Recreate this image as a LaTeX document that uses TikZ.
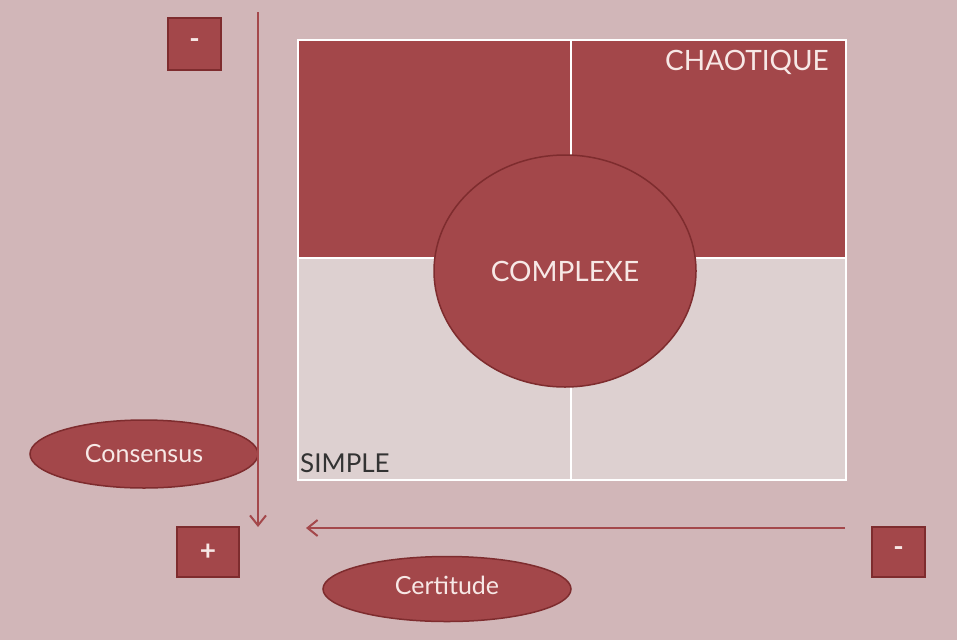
\documentclass[tikz,border=0pt]{standalone}
\usepackage{fontspec}
\setmainfont{Lato}
\usetikzlibrary{arrows.meta,shapes.geometric}
\definecolor{bg}{HTML}{D1B6B8}
\definecolor{dark}{HTML}{A3474A}
\definecolor{light}{HTML}{DDD0D0}
\definecolor{edgec}{HTML}{7E2C2E}
\definecolor{txt}{HTML}{F7E8E6}
\definecolor{arrowc}{HTML}{A4484B}
\tikzset{
  quad/.style={rectangle, anchor=north west, draw=white, line width=2pt, inner sep=0pt},
  pill/.style={ellipse, fill=dark, draw=edgec, line width=1.5pt, inner sep=0pt, text=txt, font=\fontsize{25}{28}\selectfont},
  signbox/.style={rectangle, fill=dark, draw=edgec, line width=1.5pt, inner sep=0pt, text=txt, font=\fontsize{28}{30}\selectfont\bfseries},
  axis/.style={arrowc, line width=2.2pt, -{Straight Barb[length=10pt,width=16pt,line width=2pt]}},
  big/.style={font=\fontsize{28}{32}\selectfont}
}
\begin{document}
\begin{tikzpicture}[x=1pt,y=-1pt]
\fill[bg] (0,0) rectangle (957,640);
\useasboundingbox (0,0) rectangle (957,640);
% quadrants
\node[quad, fill=dark, minimum width=273pt, minimum height=218pt] (q1) at (297,39) {};
\node[quad, fill=dark, minimum width=275pt, minimum height=218pt] (q2) at (570,39) {};
\node[quad, fill=light, minimum width=273pt, minimum height=222pt] (q3) at (297,257) {};
\node[quad, fill=light, minimum width=275pt, minimum height=222pt] (q4) at (570,257) {};
% centre ellipse
\node[ellipse, fill=dark, draw=edgec, line width=1.5pt, minimum width=262pt, minimum height=232pt, text=txt, big] (cx) at (565,271) {COMPLEXE};
% labels
\node[big, text=txt, anchor=base east, inner sep=0pt] (chaos) at (829,70) {CHAOTIQUE};
\node[font=\fontsize{26}{30}\selectfont, text=black!80, anchor=base west, inner sep=0pt] (simple) at (300,472) {SIMPLE};
% axis labels
\node[pill, minimum width=228pt, minimum height=68pt] (cons) at (144,454) {Consensus};
\node[pill, minimum width=248pt, minimum height=65pt] (cert) at (447,589) {\raisebox{7pt}{Certitude}};
% sign boxes
\node[signbox, minimum width=53pt, minimum height=52pt] (mtop) at (194.5,44) {-};
\node[signbox, minimum width=62pt, minimum height=50pt] (plus) at (208,552) {+};
\node[signbox, minimum width=53pt, minimum height=50pt] (mright) at (898.5,552) {-};
% axes
\coordinate (vtop) at (258,12);
\coordinate (vend) at (258,527);
\coordinate (hstart) at (845,528);
\coordinate (hend) at (306,528);
\draw[axis] (vtop) -- (vend);
\draw[axis] (hstart) -- (hend);
\end{tikzpicture}
\end{document}
